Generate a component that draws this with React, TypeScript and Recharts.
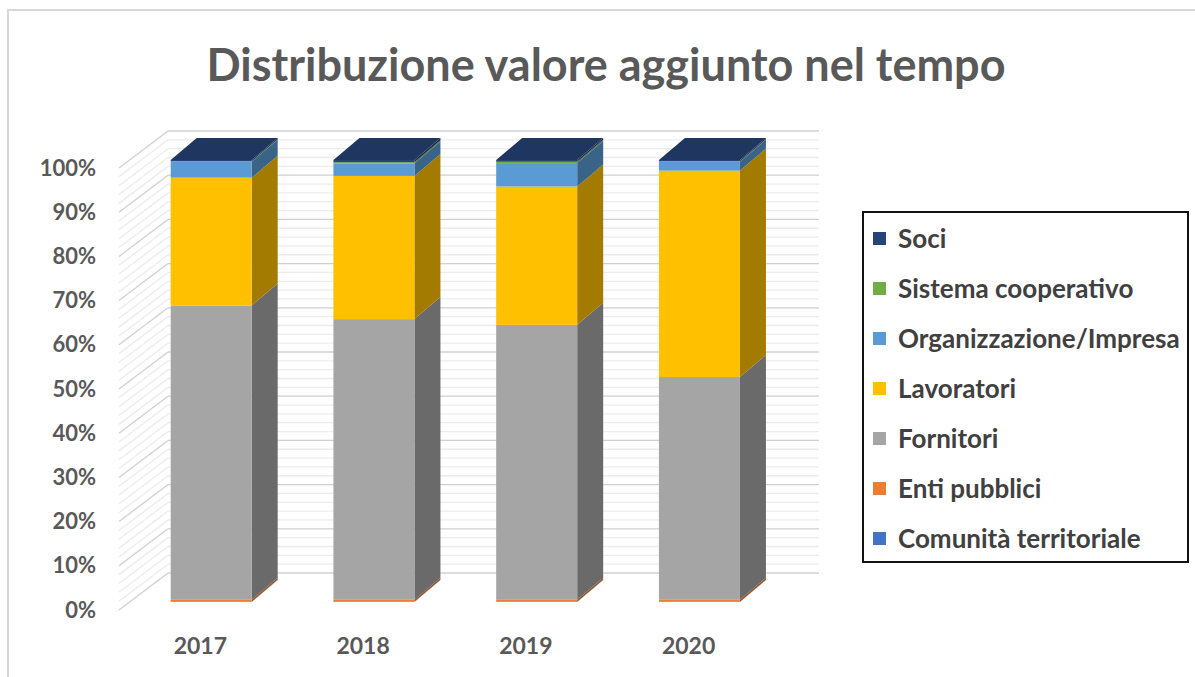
import React from 'react';
import { BarChart, Bar, XAxis, YAxis, CartesianGrid } from 'recharts';

const years = ['2017', '2018', '2019', '2020'];
const comunita = [0.05, 0.05, 0.05, 0.05];
const enti = [0.45, 0.45, 0.45, 0.45];
const fornitori = [66.6, 63.5, 62.2, 50.4];
const lavoratori = [28.9, 32.4, 31.3, 46.7];
const organizzazione = [3.6, 2.8, 5.3, 2.0];
const sistema = [0.1, 0.3, 0.3, 0.1];
const soci = [0.3, 0.5, 0.4, 0.3];
const yTicks = [0, 2, 4, 6, 8, 10, 12, 14, 16, 18, 20, 22, 24, 26, 28, 30, 32, 34, 36, 38, 40, 42, 44, 46, 48, 50, 52, 54, 56, 58, 60, 62, 64, 66, 68, 70, 72, 74, 76, 78, 80, 82, 84, 86, 88, 90, 92, 94, 96, 98, 100];

const series = [
  { key: 'comunita', name: 'Comunità territoriale', values: comunita, color: '#4472C4' },
  { key: 'enti', name: 'Enti pubblici', values: enti, color: '#ED7D31' },
  { key: 'fornitori', name: 'Fornitori', values: fornitori, color: '#A5A5A5' },
  { key: 'lavoratori', name: 'Lavoratori', values: lavoratori, color: '#FFC000' },
  { key: 'organizzazione', name: 'Organizzazione/Impresa', values: organizzazione, color: '#5B9BD5' },
  { key: 'sistema', name: 'Sistema cooperativo', values: sistema, color: '#70AD47' },
  { key: 'soci', name: 'Soci', values: soci, color: '#264478' },
];

const data = years.map((y, i) => {
  const row: Record<string, any> = { year: y };
  series.forEach((s) => { row[s.key] = s.values[i]; });
  return row;
});

const FONT = 'Lato, "Open Sans", sans-serif';
const TEXT = '#595959';
const BAR_DX = 26;
const BAR_DY = 22;
const FRONT_DX = -11;
const FRONT_DY = 8;
const BACK_DX = 38;
const BACK_DY = -29;

function shade(hex: string, f: number) {
  const n = parseInt(hex.slice(1), 16);
  const r = Math.round(((n >> 16) & 255) * f);
  const g = Math.round(((n >> 8) & 255) * f);
  const b = Math.round((n & 255) * f);
  return `rgb(${r},${g},${b})`;
}

function makeShape(color: string, isTop: boolean) {
  return (p: any) => {
    const { x, y, width, height } = p;
    if (x == null || y == null) return <g />;
    const h = Math.max(0, height || 0);
    const side = `${x + width},${y} ${x + width + BAR_DX},${y - BAR_DY} ${x + width + BAR_DX},${y + h - BAR_DY} ${x + width},${y + h}`;
    const top = `${x},${y} ${x + width},${y} ${x + width + BAR_DX},${y - BAR_DY} ${x + BAR_DX},${y - BAR_DY}`;
    return (
      <g>
        <polygon points={side} fill={shade(color, 0.64)} />
        <rect x={x} y={y} width={width} height={h} fill={color} />
        {isTop && <polygon points={top} fill={shade(color, 0.8)} />}
      </g>
    );
  };
}

const GridLine = (p: any) => {
  const { x1, y1, x2, index } = p;
  const major = index % 5 === 0;
  const stroke = major ? '#d0d0d0' : '#ececec';
  return (
    <g>
      <line x1={x1 + FRONT_DX} y1={y1 + FRONT_DY} x2={x1 + BACK_DX} y2={y1 + BACK_DY} stroke={stroke} strokeWidth={1.3} />
      <line x1={x1 + BACK_DX} y1={y1 + BACK_DY} x2={x2 + BACK_DX} y2={y1 + BACK_DY} stroke={stroke} strokeWidth={1.3} />
    </g>
  );
};

const YTick = (p: any) => {
  const { x, y, payload } = p;
  if (payload.value % 10 !== 0) return <g />;
  return (
    <text x={x - 34} y={y + FRONT_DY - 1} textAnchor="end" dominantBaseline="central" fill={TEXT} fontSize={22} fontWeight={700} fontFamily={FONT}>
      {payload.value}%
    </text>
  );
};

const XTick = (p: any) => {
  const { x, y, payload } = p;
  return (
    <text x={x + FRONT_DX} y={y + 43} textAnchor="middle" dominantBaseline="central" fill={TEXT} fontSize={23} fontWeight={700} fontFamily={FONT}>
      {payload.value}
    </text>
  );
};

export default function App() {
  const legendItems = [...series].reverse();
  return (
    <div style={{ position: 'fixed', left: 0, top: 0, width: 1195, height: 677, overflow: 'hidden', background: '#fff' }}>
      <div style={{ position: 'absolute', left: 7, top: 9, width: 1250, height: 750, border: '2px solid #d9d9d9', boxSizing: 'border-box' }} />
      <div style={{ position: 'absolute', left: 0, top: 34, width: 1212, textAlign: 'center', fontFamily: FONT, fontWeight: 700, fontSize: 45, color: TEXT, lineHeight: '60px' }}>
        Distribuzione valore aggiunto nel tempo
      </div>
      <div style={{ position: 'absolute', left: 0, top: 0 }}>
        <BarChart width={1195} height={677} data={data} margin={{ top: 160, right: 414, bottom: 0, left: 0 }} barCategoryGap="25%">
          <CartesianGrid vertical={false} horizontal={(props: any) => <GridLine {...props} />} />
          <XAxis dataKey="year" height={75} axisLine={false} tickLine={false} tickSize={0} tickMargin={0} tick={<XTick />} />
          <YAxis width={130} domain={[0, 100]} ticks={yTicks} interval={0} axisLine={false} tickLine={false} tickSize={0} tickMargin={0} tick={<YTick />} />
          {series.map((s, i) => (
            <Bar key={s.key} dataKey={s.key} name={s.name} stackId="a" fill={s.color} isAnimationActive={false} shape={makeShape(s.color, i === series.length - 1)} />
          ))}
        </BarChart>
      </div>
      <div style={{ position: 'absolute', left: 862, top: 211, width: 327, height: 352, border: '2px solid #111', boxSizing: 'border-box', background: '#fff', fontFamily: FONT }}>
        {legendItems.map((s) => (
          <div key={s.key} style={{ height: 50, display: 'flex', alignItems: 'center' }}>
            <span style={{ display: 'inline-block', width: 13, height: 13, background: s.color, marginLeft: 9, marginRight: 12 }} />
            <span style={{ fontSize: 26, fontWeight: 700, color: '#404040', whiteSpace: 'nowrap' }}>{s.name}</span>
          </div>
        ))}
      </div>
    </div>
  );
}
